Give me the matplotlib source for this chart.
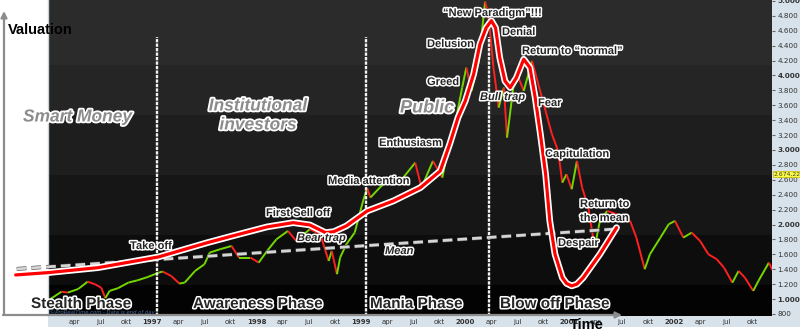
import matplotlib
matplotlib.use("Agg")
import matplotlib.pyplot as plt
import matplotlib.patheffects as pe
from matplotlib.collections import LineCollection
from matplotlib.patches import Rectangle

# Nasdaq composite (fractional year, index level)
years = [1996.02, 1996.13, 1996.19, 1996.29, 1996.38, 1996.45, 1996.51, 1996.55,
         1996.59, 1996.67, 1996.77, 1996.86, 1996.96, 1997.06, 1997.10, 1997.18,
         1997.26, 1997.31, 1997.41, 1997.50, 1997.55, 1997.65, 1997.76, 1997.83,
         1997.94, 1998.02, 1998.10, 1998.19, 1998.30, 1998.38, 1998.51, 1998.61,
         1998.69, 1998.72, 1998.77, 1998.80, 1998.86, 1998.94, 1999.02, 1999.06,
         1999.09, 1999.18, 1999.28, 1999.38, 1999.52, 1999.58, 1999.69, 1999.78,
         1999.85, 1999.92, 1999.97, 2000.01, 2000.06, 2000.13, 2000.19, 2000.22,
         2000.27, 2000.32, 2000.37, 2000.40, 2000.46, 2000.51, 2000.56, 2000.64,
         2000.70, 2000.77, 2000.83, 2000.89, 2000.93, 2000.97, 2001.02, 2001.07,
         2001.12, 2001.18, 2001.24, 2001.29, 2001.36, 2001.45, 2001.58, 2001.64,
         2001.72, 2001.77, 2001.87, 2001.95, 2002.01, 2002.09, 2002.17, 2002.25,
         2002.33, 2002.41, 2002.48, 2002.56, 2002.62, 2002.68, 2002.76, 2002.81,
         2002.91, 2002.95]
prices = [997, 1099, 1086, 1135, 1233, 1198, 1153, 1011,
          1109, 1145, 1220, 1252, 1297, 1354, 1368, 1310,
          1207, 1220, 1377, 1467, 1623, 1668, 1712, 1556,
          1556, 1489, 1645, 1802, 1914, 1780, 1937, 1870,
          1511, 1645, 1333, 1556, 1735, 1891, 2316, 2490,
          2361, 2495, 2629, 2585, 2830, 2495, 2853, 2629,
          3122, 3480, 3837, 4106, 3793, 4195, 4990, 4822,
          4106, 3569, 3837, 3166, 3837, 3971, 3793, 4195,
          3883, 3524, 3212, 2988, 2562, 2675, 2473, 2853,
          2495, 2226, 1690, 2048, 2182, 2138, 2048, 1824,
          1400, 1601, 1824, 2004, 2048, 1824, 1891, 1780,
          1601, 1534, 1421, 1220, 1377, 1287, 1109, 1243,
          1488, 1377]
last_price = 2674.22

# the hand-drawn bubble curve laid over the chart
curve_years = [1995.69, 1996.00, 1996.48, 1997.06, 1997.53, 1997.77, 1998.10, 1998.35,
               1998.51, 1998.66, 1998.74, 1998.86, 1999.06, 1999.31, 1999.57, 1999.76,
               1999.85, 1999.93, 2000.00, 2000.08, 2000.14, 2000.20, 2000.25, 2000.29,
               2000.33, 2000.38, 2000.43, 2000.49, 2000.56, 2000.62, 2000.67, 2000.72,
               2000.77, 2000.81, 2000.86, 2000.93, 2000.97, 2001.02, 2001.07, 2001.13,
               2001.29, 2001.45]
curve_values = [1323, 1354, 1421, 1565, 1757, 1847, 1968, 2025,
                1994, 1891, 1904, 1981, 2182, 2316, 2495, 2719,
                3077, 3434, 3658, 4017, 4419, 4640, 4735, 4640,
                4240, 3927, 3837, 3971, 4218, 4105, 3703, 3212,
                2675, 2048, 1601, 1287, 1210, 1176, 1200, 1287,
                1601, 1958]

# long-run mean line
mean_years = [1995.70, 2001.46]
mean_values = [1404, 1941]

phase_bounds = [1997.045, 1999.049, 2000.228]

quarter_names = ["apr", "jul", "okt"]
tick_years = [1996, 1997, 1998, 1999, 2000, 2001, 2002]

W, H = 800, 332
fig = plt.figure(figsize=(8, 3.32), dpi=100)
fig.patch.set_facecolor("white")

# light blue axis strips (behind the axes)
strip = "#d8e2ea"
fig.patches.append(Rectangle((772 / W, 5 / H), 28 / W, 327 / H, transform=fig.transFigure,
                             facecolor=strip, edgecolor="none", zorder=-2))
fig.patches.append(Rectangle((48 / W, 5 / H), 752 / W, 11 / H, transform=fig.transFigure,
                             facecolor=strip, edgecolor="none", zorder=-2))

ax = fig.add_axes([48 / W, 16 / H, 724 / W, 316 / H])
ax.set_xlim(1996.0, 2002.94)
ax.set_ylim(772, 5013)

# banded dark background
band_edges = [0, 65, 115, 175, 235, 285, 316]
band_cols = ["#2b2b2b", "#252525", "#1e1e1e", "#161616", "#0d0d0d", "#030303"]
for i, c in enumerate(band_cols):
    y0 = 1 - band_edges[i + 1] / 316
    y1 = 1 - band_edges[i] / 316
    ax.add_patch(Rectangle((0, y0), 1, y1 - y0, transform=ax.transAxes,
                           facecolor=c, edgecolor="none", zorder=0))

# price bars, green up / red down
segs = [[(years[i], prices[i]), (years[i + 1], prices[i + 1])] for i in range(len(years) - 1)]
cols = ["#74d800" if prices[i + 1] >= prices[i] else "#ff2020" for i in range(len(years) - 1)]
ax.add_collection(LineCollection(segs, colors=cols, linewidths=1.4, zorder=2))

# phase separators
for b in phase_bounds:
    ax.plot([b, b], [772, 4517], color="#f2f2f2", lw=1.7, dashes=(1.4, 0.5), zorder=3)

# mean line and bubble curve
ax.plot(mean_years, mean_values, color="#d5d5d5", lw=2.0, dashes=(3.5, 1.8), zorder=4,
        clip_on=False, path_effects=[pe.Stroke(linewidth=2.8, foreground="#444444"), pe.Normal()])
ax.plot(curve_years, curve_values, color="#ff0000", lw=2.3, zorder=5, clip_on=False,
        solid_joinstyle="round", solid_capstyle="round",
        path_effects=[pe.Stroke(linewidth=4.8, foreground="white"), pe.Normal()])

# axes ticks
xt, xl = [], []
for y in tick_years:
    if y > tick_years[0]:
        xt.append(y)
        xl.append(str(y))
    for q, name in enumerate(quarter_names):
        xt.append(y + 0.25 * (q + 1))
        xl.append(name)
ax.set_xticks(xt)
ax.set_xticklabels(xl, fontsize=5, color="#333333")
for t in ax.get_xticklabels():
    if t.get_text().isdigit():
        t.set_fontweight("bold")
ax.tick_params(axis="x", length=0, pad=2.5)

yt = list(range(800, 5001, 200))
ax.yaxis.tick_right()
ax.set_yticks(yt)
ax.set_yticklabels([f"{v:,}".replace(",", ".") for v in yt], fontsize=5.2, color="#333333")
for t, v in zip(ax.get_yticklabels(), yt):
    if v % 1000 == 0:
        t.set_fontweight("bold")
ax.tick_params(axis="y", length=2.5, pad=1.5, color="#666666")
for s in ["top", "right", "bottom"]:
    ax.spines[s].set_visible(False)
ax.spines["left"].set_color("#c8d2da")
ax.spines["left"].set_linewidth(1)

ax.text(1.002, last_price, "2.674,22", transform=ax.get_yaxis_transform(), fontsize=4.4,
        color="#333333", va="center", ha="left",
        bbox=dict(boxstyle="square,pad=0.1", facecolor="#ffff44", edgecolor="#c8b400", lw=0.5))

# overlay in pixel coordinates for the annotations
ov = fig.add_axes([0, 0, 1, 1], zorder=5)
ov.set_xlim(0, W)
ov.set_ylim(H, 0)
ov.axis("off")
ov.patch.set_alpha(0)

arrow = dict(arrowstyle="-|>", color="#8c8c8c", lw=1.6, mutation_scale=9, shrinkA=0, shrinkB=0)
ov.annotate("", xy=(4, 11), xytext=(4, 315), arrowprops=arrow)
ov.annotate("", xy=(622, 315), xytext=(3, 315), arrowprops=arrow)

ov.text(8, 30, "Valuation", fontsize=10.5, fontweight="bold", color="black", va="center",
        family="Liberation Sans")
ov.text(570, 325, "Time", fontsize=10.5, fontweight="bold", color="black", va="center",
        family="Liberation Sans")


def label(x, y, s, size=8, style="normal", color="#262626", ha="left", halo=2.2):
    ov.text(x, y, s, fontsize=size, fontweight="bold", fontstyle=style, color=color,
            ha=ha, va="center", family="Liberation Sans", linespacing=1.0,
            path_effects=[pe.withStroke(linewidth=halo, foreground="white")])


gray = "#8c8c8c"
label(23, 117, "Smart Money", size=12.5, style="italic", color=gray, halo=2.6)
label(258, 106, "Institutional", size=12.5, style="italic", color=gray, ha="center", halo=2.6)
label(258, 125, "investors", size=12.5, style="italic", color=gray, ha="center", halo=2.6)
label(400, 108, "Public", size=13, style="italic", color=gray, halo=2.6)

label(130, 246, "Take off")
label(266, 213, "First Sell off")
label(297, 238, "Bear trap", style="italic")
label(328, 181, "Media attention")
label(385, 251, "Mean", style="italic")
label(379, 143, "Enthusiasm")
label(427, 82, "Greed")
label(427, 44, "Delusion")
label(443, 13, "\u201cNew Paradigm\u201d!!!")
label(502, 32, "Denial")
label(522, 51, "Return to \u201cnormal\u201d")
label(480, 97, "Bull trap", style="italic")
label(538, 103, "Fear")
label(545, 154, "Capitulation")
label(580, 204, "Return to")
label(580, 218, "the mean")
label(558, 243, "Despair")

label(31, 304, "Stealth Phase", size=11)
label(193, 304, "Awareness Phase", size=11)
label(370, 304, "Mania Phase", size=11)
label(500, 304, "Blow off Phase", size=11)

ov.text(50, 312, "\u00a9ProRealTime.com - Data is end of day", fontsize=3.8,
        color="#4a6a9a", va="center", style="italic")

fig.savefig("out.png", dpi=100, facecolor="white")
